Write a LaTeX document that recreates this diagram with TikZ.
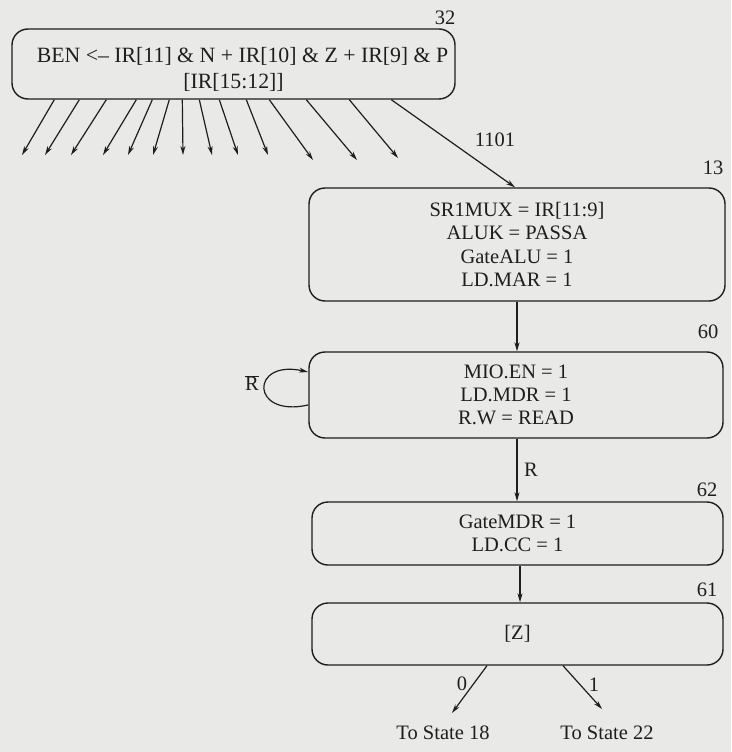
\documentclass[tikz,border=0pt]{standalone}
\usepackage{fontspec}
\setmainfont{Liberation Serif}
\usetikzlibrary{arrows.meta,calc}
\definecolor{paper}{RGB}{233,233,231}
\definecolor{ink}{RGB}{30,30,30}
\begin{document}
\begin{tikzpicture}[x=1pt,y=1pt,
  font=\fontsize{20.5}{23.3}\selectfont,
  every node/.style={text=ink},
  state/.style={draw=ink,line width=1.4pt,rounded corners=16pt,align=center,inner sep=0pt},
  bigtext/.style={font=\fontsize{21.8}{26}\selectfont},
  arr/.style={draw=ink,line width=1.2pt,-{Stealth[length=9pt,width=5pt]}},
  lbl/.style={inner sep=0pt}]
\useasboundingbox[fill=paper] (0,0) rectangle (731,-752);
% states
\node[state,bigtext,minimum width=443,minimum height=70] (b32) at (233.5,-64)
  {\hspace*{18pt}\rule{0pt}{25pt}BEN <-- IR[11] \& N + IR[10] \& Z + IR[9] \& P\\{}[IR[15:12]]};
\node[lbl] (n32) at (445,-18) {32};
\node[state,minimum width=416,minimum height=113] (b13) at (517,-244.5)
  {SR1MUX = IR[11:9]\\ALUK = PASSA\\GateALU = 1\\LD.MAR = 1};
\node[lbl] (n13) at (713,-168) {13};
\node[state,minimum width=414,minimum height=86] (b60) at (516,-395)
  {MIO.EN = 1\\LD.MDR = 1\\R.W = READ};
\node[lbl] (n60) at (708,-332) {60};
\node[state,minimum width=411,minimum height=63] (b62) at (517.5,-533.5)
  {GateMDR = 1\\LD.CC = 1};
\node[lbl] (n62) at (707,-490) {62};
\node[state,minimum width=411,minimum height=62] (b61) at (517.5,-634)
  {[Z]};
\node[lbl] (n61) at (707,-590) {61};
% fan-out arrows from state 32
\foreach \sx/\ex/\ey in {43/22/155, 68/45/155, 95/71/155, 125/103/155, 141/128/155,
  158/153/155, 171/183/155, 188/212/155, 208/238/155, 235/268/155,
  258/313/160, 295/357/160, 338/398/158}{
  \coordinate (e\sx) at (\ex,-\ey);
  \draw[arr] ([xshift=\sx]b32.south west) -- (e\sx);
}
\coordinate (t13) at (515,0);
\draw[arr] ([xshift=380]b32.south west) -- (b13.north -| t13);
\node[lbl] (l1101) at (495,-140) {1101};
% vertical flow
\draw[arr] (b13.south) -- (b60.north -| b13.south);
\coordinate (lb) at (308,-405);
\coordinate (lt) at (308,-372);
\draw[arr] (lb) .. controls (250,-418) and (250,-359) .. (lt);
\node[lbl] (rbar) at (252,-383) {$\overline{\hbox{R}}$};
\coordinate (m60) at (517,0);
\draw[arr] (b60.south -| m60) -- (b62.north -| m60);
\node[lbl] (lr) at (531,-470) {R};
\coordinate (m62) at (520,0);
\draw[arr] (b62.south -| m62) -- (b61.north -| m62);
% exits
\node[lbl] (s18) at (443,-733) {To State 18};
\node[lbl] (s22) at (607,-733) {To State 22};
\coordinate (x0) at (487,0);
\coordinate (x1) at (563,0);
\coordinate (e0) at (452,-713);
\coordinate (e1) at (602,-709);
\draw[arr] (b61.south -| x0) -- (e0);
\draw[arr] (b61.south -| x1) -- (e1);
\node[lbl] (l0) at (462,-684) {0};
\node[lbl] (l1) at (594,-685) {1};
\end{tikzpicture}
\end{document}
